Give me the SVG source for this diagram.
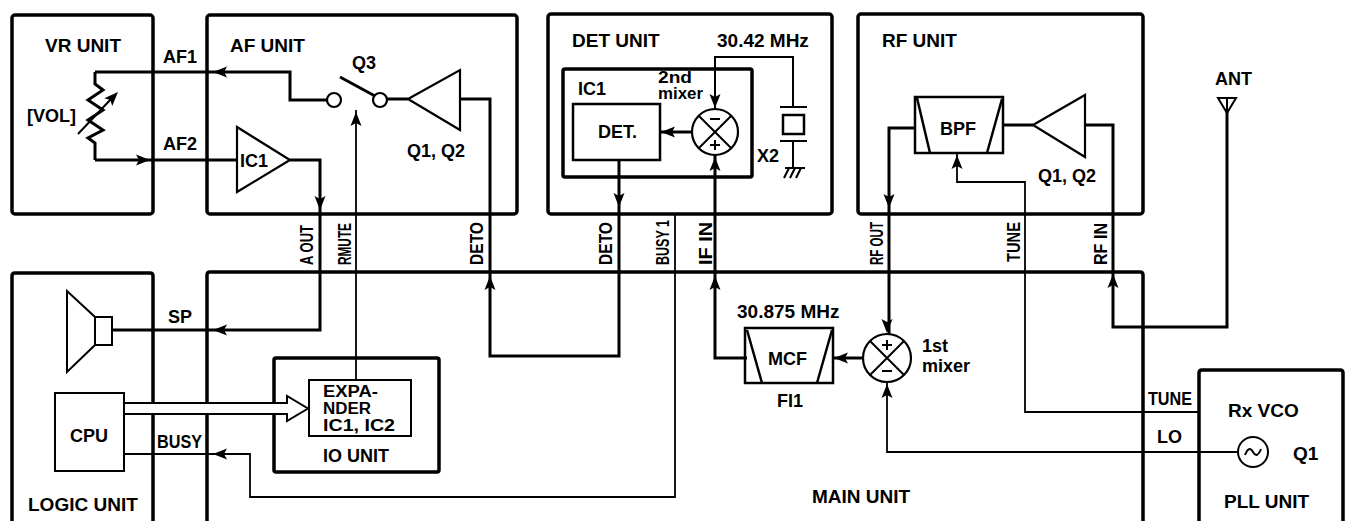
<svg xmlns="http://www.w3.org/2000/svg" xmlns:xlink="http://www.w3.org/1999/xlink" width="1350" height="521" viewBox="0 0 1350 521">
<style>
text{font-family:"Liberation Sans",Arial,sans-serif;font-weight:bold;font-size:18px;fill:#000}
.t19{font-size:19px}
.sm{font-size:16px}
.box{fill:none;stroke:#000;stroke-width:3.5;stroke-linejoin:round}
.sub{fill:none;stroke:#000;stroke-width:2.5}
.thin{fill:none;stroke:#000;stroke-width:1.8}
.w{fill:none;stroke:#000;stroke-width:3;stroke-linejoin:miter}
.wt{fill:none;stroke:#000;stroke-width:2}
.sym{fill:#fff;stroke:#000;stroke-width:2.2;stroke-linejoin:miter}
</style>
<defs>
<path id="ah" d="M0,0 L-14,-5.5 L-11,0 L-14,5.5 Z" fill="#000"/>
</defs>
<rect width="1350" height="521" fill="#fff"/>

<g id="vr-unit">
<rect class="box" x="12" y="15" width="141" height="199" rx="3"/>
<text class="t19" x="45" y="52">VR UNIT</text>
<text x="27" y="122">[VOL]</text>
<path class="w" d="M95,72 V84 L103,90 L88,100 L103,110 L88,120 L103,130 L88,138 L95,143 V160"/>
<line class="wt" x1="78" y1="134" x2="112" y2="98"/>
<use xlink:href="#ah" transform="translate(118,92) rotate(-46)"/>
</g>

<g id="af-unit">
<rect class="box" x="207" y="15" width="310" height="199" rx="3"/>
<text class="t19" x="230" y="52">AF UNIT</text>
<text x="163" y="63">AF1</text>
<text x="163" y="150">AF2</text>
<polygon class="sym" points="237,127 290,160 237,192"/>
<text x="240" y="167">IC1</text>
<circle class="sym" cx="334" cy="100" r="7"/>
<circle class="sym" cx="380" cy="100" r="7"/>
<line class="w" x1="340" y1="77" x2="375" y2="96"/>
<text x="352" y="69">Q3</text>
<polygon class="sym" points="408,99 460,70 460,130"/>
<text x="407" y="157">Q1, Q2</text>
</g>

<g id="det-unit">
<rect class="box" x="548" y="14" width="284" height="200" rx="3"/>
<text class="t19" x="572" y="47">DET UNIT</text>
<text class="t19" x="717" y="47">30.42 MHz</text>
<rect class="box" x="563" y="69" width="189" height="108" rx="2"/>
<text x="578" y="95">IC1</text>
<rect class="sub" x="573" y="104" width="87" height="56"/>
<text x="598" y="138">DET.</text>
<text class="sm" x="658" y="83" textLength="34" lengthAdjust="spacingAndGlyphs">2nd</text>
<text class="sm" x="658" y="99" textLength="45" lengthAdjust="spacingAndGlyphs">mixer</text>
<circle class="sym" cx="715" cy="132" r="23"/>
<path class="wt" d="M698.7,115.7 L731.3,148.3 M731.3,115.7 L698.7,148.3"/>
<path class="wt" d="M710,119 H720 M710,145 H720 M715,140 V150"/>
<path class="wt" d="M780,107 H807 M780,141 H807 M793,141 V168 M785,168 H805 M789,168 L784,178 M795,168 L790,178 M801,168 L796,178"/>
<rect class="sub" x="783" y="115" width="21" height="19"/>
<text x="757" y="162">X2</text>
</g>

<g id="rf-unit">
<rect class="box" x="858" y="14" width="285" height="200" rx="3"/>
<text class="t19" x="882" y="47">RF UNIT</text>
<rect class="sub" x="915" y="97" width="88" height="56"/>
<path class="sub" d="M917,98 L930,153 M1002,99 L987,153"/>
<text x="940" y="135">BPF</text>
<polygon class="sym" points="1033,125 1085,95 1085,157"/>
<text x="1038" y="182">Q1, Q2</text>
</g>

<g id="ant">
<text x="1215" y="85">ANT</text>
<path class="wt" d="M1218,98 H1236 L1227,113 Z M1227,98 V120"/>
</g>

<g id="logic-unit">
<path class="box" d="M12,521 V276 Q12,273 15,273 H150 Q153,273 153,276 V521"/>
<path class="wt" d="M67,291 V372 L95,345 V317 Z"/>
<rect class="wt" x="95" y="317" width="17" height="28"/>
<rect class="wt" x="55" y="393" width="69" height="78"/>
<text x="70" y="442">CPU</text>
<text class="t19" x="28" y="511">LOGIC UNIT</text>
</g>

<g id="main-unit">
<path class="box" d="M207,521 V275 Q207,272 210,272 H1140 Q1143,272 1143,275 V521"/>
<text class="t19" x="812" y="503">MAIN UNIT</text>
<text x="168" y="323">SP</text>
<text x="157" y="448" textLength="45" lengthAdjust="spacingAndGlyphs">BUSY</text>
<rect class="sub" x="745" y="328" width="88" height="55"/>
<path class="sub" d="M747,330 L762,383 M832,330 L817,383"/>
<text x="768" y="365">MCF</text>
<text class="t19" x="737" y="318">30.875 MHz</text>
<text x="777" y="407">FI1</text>
<circle class="sym" cx="887" cy="358" r="24"/>
<path class="wt" d="M870,341 L904,375 M904,341 L870,375"/>
<path class="wt" d="M882,345 H892 M887,340 V350 M882,371 H892"/>
<text x="922" y="352">1st</text>
<text x="922" y="372">mixer</text>
<text x="1148" y="405" textLength="44" lengthAdjust="spacingAndGlyphs">TUNE</text>
<text x="1157" y="443">LO</text>
</g>

<g id="io-unit">
<rect class="box" x="274" y="358" width="165" height="114" rx="2"/>
<rect class="wt" x="309" y="380" width="102" height="56"/>
<text class="sm" x="323" y="397" textLength="55" lengthAdjust="spacingAndGlyphs">EXPA-</text>
<text class="sm" x="323" y="414" textLength="48" lengthAdjust="spacingAndGlyphs">NDER</text>
<text class="sm" x="323" y="431" textLength="72" lengthAdjust="spacingAndGlyphs">IC1, IC2</text>
<text x="323" y="462">IO UNIT</text>
</g>

<g id="pll-unit">
<path class="box" d="M1199,521 V373 Q1199,370 1202,370 H1340 Q1343,370 1343,373 V521"/>
<text class="t19" x="1228" y="417">Rx VCO</text>
<circle class="wt" cx="1253" cy="452" r="15"/>
<path class="wt" d="M1245,455 Q1249,445 1253,452 Q1257,459 1261,449"/>
<text class="t19" x="1293" y="460">Q1</text>
<text class="t19" x="1224" y="508">PLL UNIT</text>
</g>

<g id="labels">
<text transform="translate(313,265) rotate(-90)" textLength="40" lengthAdjust="spacingAndGlyphs">A OUT</text>
<text transform="translate(351,265) rotate(-90)" textLength="42" lengthAdjust="spacingAndGlyphs">RMUTE</text>
<text transform="translate(483,265) rotate(-90)" textLength="43" lengthAdjust="spacingAndGlyphs">DETO</text>
<text transform="translate(612,265) rotate(-90)" textLength="43" lengthAdjust="spacingAndGlyphs">DETO</text>
<text transform="translate(669,265) rotate(-90)" textLength="45" lengthAdjust="spacingAndGlyphs">BUSY 1</text>
<text transform="translate(712,265) rotate(-90)" textLength="43" lengthAdjust="spacingAndGlyphs">IF IN</text>
<text transform="translate(883,265) rotate(-90)" textLength="43" lengthAdjust="spacingAndGlyphs">RF OUT</text>
<text transform="translate(1020,262) rotate(-90)" textLength="40" lengthAdjust="spacingAndGlyphs">TUNE</text>
<text transform="translate(1107,265) rotate(-90)" textLength="42" lengthAdjust="spacingAndGlyphs">RF IN</text>
</g>

<g id="connectors">
<path class="w" d="M95,72 H290 V100 H327"/>
<path class="w" d="M95,160 H237"/>
<path class="w" d="M290,160 H320 V330 H112"/>
<path class="thin" d="M356,380 V110"/>
<path class="w" d="M387,99 H408"/>
<path class="w" d="M460,99 H490 V356 H619 V160"/>
<path class="w" d="M692,132 H660"/>
<path class="wt" d="M715,109 V57 H793 V107"/>
<path class="w" d="M747,358 H715 V155"/>
<path class="thin" d="M675,213 V497 H250 V454 H124"/>
<path class="w" d="M915,128 H889 V334"/>
<path class="w" d="M863,358 H833"/>
<path class="thin" d="M957,153 V182 H1025 V412 H1199"/>
<path class="thin" d="M887,382 V452 H1238"/>
<path class="w" d="M1085,125 H1113 V327 H1227 V110"/>
<path class="w" d="M1003,125 H1033"/>
<polygon fill="#fff" stroke="#000" stroke-width="2" points="124,403 287,403 287,396 308,408.5 287,421 287,414 124,414"/>
<use xlink:href="#ah" transform="translate(213,72) rotate(180)"/>
<use xlink:href="#ah" transform="translate(150,160)"/>
<use xlink:href="#ah" transform="translate(320,210) rotate(90)"/>
<use xlink:href="#ah" transform="translate(356,112) rotate(-90)"/>
<use xlink:href="#ah" transform="translate(490,276) rotate(-90)"/>
<use xlink:href="#ah" transform="translate(619,207) rotate(90)"/>
<use xlink:href="#ah" transform="translate(661,132) rotate(180)"/>
<use xlink:href="#ah" transform="translate(715,108) rotate(90)"/>
<use xlink:href="#ah" transform="translate(715,157) rotate(-90)"/>
<use xlink:href="#ah" transform="translate(715,276) rotate(-90)"/>
<use xlink:href="#ah" transform="translate(889,208) rotate(90)"/>
<use xlink:href="#ah" transform="translate(957,155) rotate(-90)"/>
<use xlink:href="#ah" transform="translate(887,333) rotate(90)"/>
<use xlink:href="#ah" transform="translate(834,358) rotate(180)"/>
<use xlink:href="#ah" transform="translate(887,384) rotate(-90)"/>
<use xlink:href="#ah" transform="translate(1113,274) rotate(-90)"/>
<use xlink:href="#ah" transform="translate(213,330) rotate(180)"/>
<use xlink:href="#ah" transform="translate(213,454) rotate(180)"/>
</g>
</svg>
